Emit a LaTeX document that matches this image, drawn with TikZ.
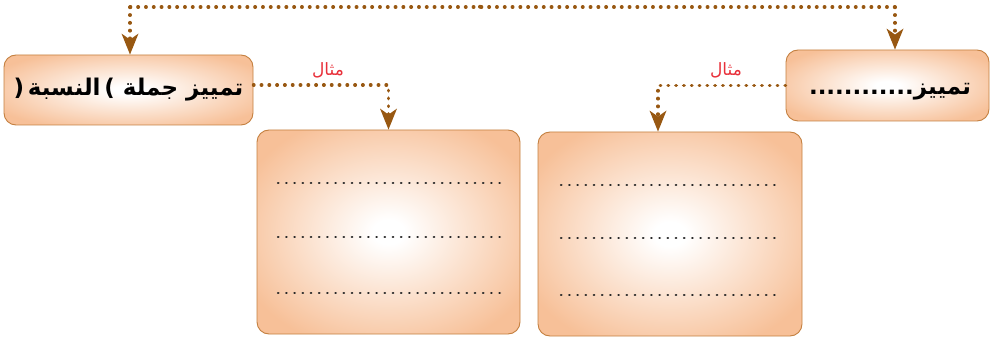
\documentclass[tikz,border=0pt]{standalone}
\usepackage{fontspec}
\usetikzlibrary{arrows.meta}
\TeXXeTstate=1
\newfontfamily\arabicfont[Script=Arabic]{DejaVu Sans}
\definecolor{brownc}{RGB}{152,88,18}
\definecolor{peach}{RGB}{247,192,152}
\definecolor{edgec}{RGB}{196,128,64}
\definecolor{redc}{RGB}{232,48,58}
\definecolor{dotc}{RGB}{40,40,40}
\pgfdeclareradialshading{softglow}{\pgfpoint{0bp}{0bp}}{color(0bp)=(white); color(3bp)=(white); color(30bp)=(peach); color(72bp)=(peach)}
\tikzset{
  box/.style={draw=edgec, line width=0.9pt, rounded corners=12pt, shading=softglow, inner sep=0pt},
  conn/.style={draw=brownc, line width=3.4pt, line cap=round, dash pattern=on 0.5pt off 7.3pt, -{Stealth[length=21pt,width=17pt,inset=6pt,line width=0pt,fill=brownc]}},
  plain/.style={draw=brownc, line width=3.4pt, line cap=round, dash pattern=on 0.5pt off 7.3pt},
  dotline/.style={draw=dotc, line width=2.4pt, line cap=round, dash pattern=on 0.4pt off 7.8pt},
  lbl/.style={text=redc, font=\arabicfont\fontsize{17}{19}\selectfont},
  big/.style={font=\arabicfont\bfseries\fontsize{23}{27}\selectfont, text=black}
}
\begin{document}
\begin{tikzpicture}[x=1pt,y=-1pt]
\useasboundingbox (0,0) rectangle (990,339);
% boxes
\node[box, minimum width=249pt, minimum height=70pt] (B1) at (128.5,90) {};
\node[box, minimum width=203pt, minimum height=71pt] (B2) at (887.5,85.5) {};
\node[box, minimum width=263pt, minimum height=204pt] (C1) at (388.5,232) {};
\node[box, minimum width=264pt, minimum height=204pt] (C2) at (670,234) {};
% texts
\node[big] (T1) at (128.5,90) {(\,\beginR النسبة\endR\,) \beginR تمييز جملة\endR};
\node[big] (T2) at (890,92) {\beginR تمييز............\endR};
% top connector
\coordinate (t1) at (130,7);
\coordinate (t2) at (895,7);
\coordinate (tm) at (480,7);
\draw[plain] (t2) -- (t1);
\draw[plain] (tm) -- ++(0,-3.5);
\draw[conn] (t1) -- (t1 |- B1.north);
\draw[conn] (t2) -- (t2 |- B2.north);
% example connectors
\draw[conn] (B1.east |- 0,85) -| (C1.north);
\draw[conn] (B2.west) -| ([xshift=-12pt]C2.north);
\node[lbl] (L1) at (328,70) {\beginR مثال\endR};
\node[lbl] (L2) at (726,70) {\beginR مثال\endR};
% dotted answer lines
\foreach \y in {183,237,293} \draw[dotline] (278,\y) -- (500,\y);
\foreach \y in {185,238,295} \draw[dotline] (561,\y) -- (782,\y);
\end{tikzpicture}
\end{document}
